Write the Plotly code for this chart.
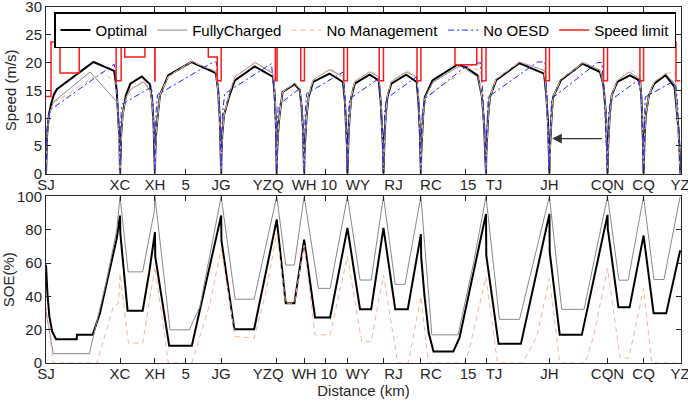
import plotly.graph_objects as go

# ---------------- data ----------------
station_names = ["SJ", "XC", "XH", "JG", "YZQ", "WH", "WY", "RJ", "RC", "TJ", "JH", "CQN", "CQ", "YZ"]
station_km = [0, 2.65, 3.90, 6.27, 8.26, 9.24, 10.79, 12.08, 13.42, 15.75, 18.02, 20.10, 21.39, 22.70]
km_marks = [5, 10, 15]

# speed (m/s) vs distance (km)
optimal_speed = [
    (0, 0), (0.01, 3.5), (0.04, 7), (0.10, 10.5), (0.18, 12.5), (0.28, 14.2), (0.39, 15.2), (1.70, 20.1), (2.44, 18.5), (2.53, 15), (2.59, 10.5), (2.63, 6), (2.65, 0),
    (2.66, 3.5), (2.69, 7), (2.74, 10.5), (2.86, 14.1), (3.02, 16.2), (3.43, 17.5), (3.72, 16.1), (3.80, 13), (3.85, 9), (3.88, 5), (3.90, 0),
    (3.91, 3.5), (3.94, 7), (4.00, 10.5), (4.08, 14.2), (4.38, 17.7), (5.21, 20.1), (6.08, 18.1), (6.16, 15), (6.22, 10), (6.25, 5), (6.27, 0),
    (6.28, 3.5), (6.31, 7), (6.37, 10.5), (6.55, 13.8), (6.76, 16.8), (7.47, 19.3), (8.13, 17.4), (8.19, 14), (8.23, 9), (8.25, 4), (8.26, 0),
    (8.27, 3.5), (8.30, 7), (8.36, 10.5), (8.47, 14.7), (8.90, 16.1), (9.08, 15.1), (9.15, 12), (9.20, 8), (9.23, 4), (9.24, 0),
    (9.25, 3.5), (9.28, 7), (9.33, 10.5), (9.40, 13.8), (9.56, 16.5), (10.15, 18.0), (10.63, 16.5), (10.70, 13), (10.75, 8), (10.78, 4), (10.79, 0),
    (10.80, 3.5), (10.83, 7), (10.87, 10.5), (10.93, 13.8), (11.05, 16.2), (11.58, 17.8), (11.91, 16.8), (11.98, 13), (12.03, 8), (12.07, 4), (12.08, 0),
    (12.09, 3.5), (12.12, 7), (12.16, 10.5), (12.22, 13.8), (12.36, 16.2), (12.89, 17.8), (13.27, 16.5), (13.33, 13), (13.38, 8), (13.41, 4), (13.42, 0),
    (13.43, 3.5), (13.46, 7), (13.50, 10.5), (13.56, 13.8), (13.84, 16.8), (14.72, 19.6), (15.00, 19.2), (15.45, 17.7), (15.60, 14), (15.68, 9), (15.73, 4), (15.75, 0),
    (15.76, 3.5), (15.79, 7), (15.83, 10.5), (15.89, 13.8), (16.11, 16.8), (16.94, 19.9), (17.83, 18.0), (17.91, 14), (17.97, 9), (18.00, 4), (18.02, 0),
    (18.03, 3.5), (18.06, 7), (18.10, 10.5), (18.15, 13.8), (18.43, 16.8), (19.20, 19.8), (19.83, 18.3), (19.95, 16), (20.04, 11), (20.08, 5), (20.10, 0),
    (20.11, 3.5), (20.14, 7), (20.18, 10.5), (20.25, 14.1), (20.45, 16.5), (20.90, 17.7), (21.27, 16.7), (21.32, 13), (21.36, 8), (21.38, 4), (21.39, 0),
    (21.40, 3.5), (21.43, 7), (21.47, 10.5), (21.58, 14.1), (21.77, 16.2), (22.18, 17.7), (22.50, 15.6), (22.57, 12), (22.64, 8), (22.68, 4), (22.70, 0),
]
charged_speed = [
    (0, 0), (0.01, 3.5), (0.04, 7), (0.10, 10.5), (0.27, 12.9), (1.58, 18.3), (2.54, 12.9), (2.59, 10), (2.63, 5), (2.65, 0),
    (2.66, 3.5), (2.69, 7), (2.74, 10.5), (2.86, 13.6), (3.03, 15.2), (3.50, 16.5), (3.74, 14.8), (3.82, 12), (3.86, 8), (3.89, 4), (3.90, 0),
    (3.91, 3.5), (3.94, 7), (4.00, 10.5), (4.08, 14.2), (4.38, 17.5), (5.21, 20.2), (6.08, 18.4), (6.16, 15), (6.22, 10), (6.25, 5), (6.27, 0),
    (6.28, 3.5), (6.31, 7), (6.37, 10.5), (6.55, 14.2), (6.76, 17.4), (7.49, 20.0), (8.13, 18.0), (8.19, 14), (8.23, 9), (8.25, 4), (8.26, 0),
    (8.27, 3.5), (8.30, 7), (8.36, 10.5), (8.47, 14.7), (8.90, 16.3), (9.08, 15.3), (9.15, 12), (9.20, 8), (9.23, 4), (9.24, 0),
    (9.25, 3.5), (9.28, 7), (9.33, 10.5), (9.40, 14.0), (9.56, 16.9), (10.15, 18.7), (10.63, 17.5), (10.70, 13.5), (10.75, 8), (10.78, 4), (10.79, 0),
    (10.80, 3.5), (10.83, 7), (10.87, 10.5), (10.93, 14.0), (11.05, 16.6), (11.58, 18.3), (11.91, 17.4), (11.98, 13.5), (12.03, 8), (12.07, 4), (12.08, 0),
    (12.09, 3.5), (12.12, 7), (12.16, 10.5), (12.22, 14.0), (12.36, 16.6), (12.89, 18.3), (13.27, 17.4), (13.33, 13.5), (13.38, 8), (13.41, 4), (13.42, 0),
    (13.43, 3.5), (13.46, 7), (13.50, 10.5), (13.56, 13.6), (13.84, 16.4), (14.80, 19.4), (15.00, 18.9), (15.47, 17.3), (15.60, 14), (15.68, 9), (15.73, 4), (15.75, 0),
    (15.76, 3.5), (15.79, 7), (15.83, 10.5), (15.89, 13.8), (16.11, 17.0), (16.96, 20.1), (17.83, 18.6), (17.91, 14.5), (17.97, 9), (18.00, 4), (18.02, 0),
    (18.03, 3.5), (18.06, 7), (18.10, 10.5), (18.15, 13.8), (18.43, 17.0), (19.25, 20.0), (19.84, 18.6), (19.95, 16), (20.04, 11), (20.08, 5), (20.10, 0),
    (20.11, 3.5), (20.14, 7), (20.18, 10.5), (20.25, 14.1), (20.45, 16.8), (20.88, 18.3), (21.27, 17.0), (21.32, 13), (21.36, 8), (21.38, 4), (21.39, 0),
    (21.40, 3.5), (21.43, 7), (21.47, 10.5), (21.58, 14.1), (21.77, 16.5), (22.18, 18.0), (22.50, 16.2), (22.57, 12), (22.64, 8), (22.68, 4), (22.70, 0),
]
nomgmt_speed = [
    (0, 0), (0.01, 3.5), (0.04, 7), (0.10, 10.5), (0.27, 12.7), (2.00, 18.3), (2.50, 16.4), (2.57, 12), (2.62, 6), (2.65, 0),
    (2.66, 3.5), (2.69, 7), (2.74, 10.5), (2.86, 13.6), (3.03, 15.2), (3.52, 16.8), (3.74, 15.0), (3.82, 12), (3.86, 8), (3.89, 4), (3.90, 0),
    (3.91, 3.5), (3.94, 7), (4.00, 10.5), (4.08, 14.2), (4.38, 17.5), (5.21, 20.2), (6.08, 18.4), (6.16, 15), (6.22, 10), (6.25, 5), (6.27, 0),
    (6.28, 3.5), (6.31, 7), (6.37, 10.5), (6.55, 14.2), (6.76, 17.4), (7.49, 20.1), (8.13, 18.2), (8.19, 14), (8.23, 9), (8.25, 4), (8.26, 0),
    (8.27, 3.5), (8.30, 7), (8.36, 10.5), (8.47, 14.7), (8.90, 16.3), (9.08, 15.3), (9.15, 12), (9.20, 8), (9.23, 4), (9.24, 0),
    (9.25, 3.5), (9.28, 7), (9.33, 10.5), (9.40, 14.0), (9.56, 16.9), (10.18, 18.9), (10.63, 17.5), (10.70, 13.5), (10.75, 8), (10.78, 4), (10.79, 0),
    (10.80, 3.5), (10.83, 7), (10.87, 10.5), (10.93, 14.0), (11.05, 16.6), (11.62, 18.5), (11.91, 17.4), (11.98, 13.5), (12.03, 8), (12.07, 4), (12.08, 0),
    (12.09, 3.5), (12.12, 7), (12.16, 10.5), (12.22, 14.0), (12.36, 16.6), (12.93, 18.5), (13.27, 17.4), (13.33, 13.5), (13.38, 8), (13.41, 4), (13.42, 0),
    (13.43, 3.5), (13.46, 7), (13.50, 10.5), (13.56, 13.4), (13.84, 14.7), (15.15, 19.1), (15.47, 18.7), (15.60, 14), (15.68, 9), (15.73, 4), (15.75, 0),
    (15.76, 3.5), (15.79, 7), (15.83, 10.5), (15.89, 13.8), (16.11, 17.0), (16.96, 20.1), (17.83, 18.6), (17.91, 14.5), (17.97, 9), (18.00, 4), (18.02, 0),
    (18.03, 3.5), (18.06, 7), (18.10, 10.5), (18.15, 13.8), (18.43, 17.0), (19.25, 20.0), (19.84, 18.6), (19.95, 16), (20.04, 11), (20.08, 5), (20.10, 0),
    (20.11, 3.5), (20.14, 7), (20.18, 10.5), (20.25, 14.1), (20.45, 16.8), (20.97, 18.6), (21.27, 17.4), (21.32, 13), (21.36, 8), (21.38, 4), (21.39, 0),
    (21.40, 3.5), (21.43, 7), (21.47, 10.5), (21.58, 14.1), (21.77, 16.5), (22.18, 18.0), (22.52, 18.4), (22.58, 12), (22.64, 8), (22.68, 4), (22.70, 0),
]
nooesd_speed = [
    (0, 0), (0.01, 4), (0.04, 8), (0.13, 11.4), (2.44, 19.7), (2.53, 16), (2.59, 11), (2.63, 6), (2.65, 0),
    (2.66, 6), (2.69, 11), (2.72, 12.5), (3.78, 15.6), (3.84, 12), (3.88, 6), (3.90, 0),
    (3.91, 6), (3.94, 11), (3.99, 14.2), (5.99, 20.1), (6.10, 20.1), (6.18, 15), (6.24, 8), (6.27, 0),
    (6.28, 6), (6.32, 11), (6.40, 14.4), (8.07, 19.8), (8.16, 15), (8.22, 8), (8.26, 0),
    (8.27, 6), (8.29, 10), (8.31, 12.3), (9.08, 15.3), (9.15, 12), (9.21, 6), (9.24, 0),
    (9.25, 6), (9.28, 11), (9.33, 14.4), (10.64, 18.3), (10.70, 14), (10.76, 7), (10.79, 0),
    (10.80, 6), (10.83, 11), (10.87, 13.5), (11.91, 17.1), (11.98, 13), (12.04, 7), (12.08, 0),
    (12.09, 6), (12.12, 11), (12.18, 13.5), (13.26, 17.4), (13.33, 13), (13.38, 7), (13.42, 0),
    (13.43, 6), (13.47, 11), (13.57, 13.5), (15.00, 19.2), (15.55, 20.0), (15.63, 15), (15.70, 8), (15.75, 0),
    (15.76, 6), (15.79, 11), (15.83, 13.8), (17.59, 20.1), (17.86, 20.1), (17.93, 14), (17.98, 7), (18.02, 0),
    (18.03, 6), (18.06, 11), (18.10, 13.5), (19.74, 20.0), (19.90, 20.0), (19.98, 14), (20.05, 7), (20.10, 0),
    (20.11, 6), (20.14, 11), (20.21, 13.2), (21.19, 16.8), (21.30, 14), (21.35, 8), (21.39, 0),
    (21.40, 6), (21.43, 11), (21.45, 13.8), (22.53, 16.8), (22.60, 13), (22.66, 7), (22.70, 0),
]
limit_km = [0, 0.18, 0.50, 1.19, 2.51, 2.69, 2.82, 3.54, 3.895, 3.905, 5.81, 6.13, 6.27, 8.21, 8.27,
            9.12, 9.25, 10.66, 10.79, 11.93, 12.08, 13.28, 13.42, 14.64, 15.42, 15.60, 15.75,
            17.89, 18.02, 19.96, 20.10, 21.26, 21.39, 22.55, 22.70]
limit_speed = [13.9, 23.7, 18.1, 23.7, 16.7, 23.7, 21.0, 23.7, 16.7, 23.7, 21.0, 16.7, 23.7, 16.7, 23.7,
               16.7, 23.7, 16.7, 23.7, 16.7, 23.7, 16.7, 23.7, 19.6, 23.7, 16.7, 23.7,
               16.7, 23.7, 16.7, 23.7, 16.7, 23.7, 16.7, 16.7]

# SOE (%) vs distance (km)
optimal_soe = [
    (0, 59), (0.05, 42), (0.12, 28), (0.22, 19), (0.36, 14.3), (1.10, 14.3), (1.11, 16.9), (1.67, 16.9), (1.93, 29.8), (2.29, 55.7), (2.53, 74.6), (2.65, 88.5),
    (2.66, 78), (2.92, 31.4), (3.46, 31.4), (3.70, 55), (3.90, 78.5), (3.91, 64), (4.41, 10.3), (5.22, 10.3), (5.75, 49.7), (6.27, 88.5),
    (6.28, 73.6), (6.74, 20.3), (7.45, 20.3), (8.26, 86.1), (8.58, 35.9), (8.89, 35.9), (9.24, 74.1), (9.63, 27.3), (10.17, 27.3), (10.79, 81.1),
    (11.24, 32.3), (11.64, 32.3), (12.08, 81.1), (12.50, 32.3), (12.95, 32.3), (13.42, 77.3), (13.43, 63.7), (13.55, 40), (13.70, 18), (13.87, 6.9),
    (14.58, 6.9), (14.80, 15), (15.75, 89.5), (15.76, 64.6), (16.20, 11.5), (17.00, 11.5), (18.02, 89.5), (18.03, 66.6), (18.39, 16.9), (19.18, 16.9),
    (20.10, 88.9), (20.11, 80.5), (20.49, 33.4), (20.89, 33.4), (21.39, 76.5), (21.75, 29.8), (22.20, 29.8), (22.70, 67.6),
]
charged_soe = [
    (0, 30.8), (0.26, 5.6), (1.55, 5.6), (2.17, 49.7), (2.53, 79.5), (2.65, 100), (2.94, 54.7), (3.46, 54.7), (3.87, 90.5), (3.90, 100),
    (4.44, 19.9), (5.13, 19.9), (5.51, 33.8), (6.27, 100), (6.77, 38.3), (7.45, 38.3), (8.26, 100), (8.58, 58.8), (8.89, 58.8), (9.24, 100),
    (9.75, 44.8), (10.17, 44.8), (10.79, 100), (11.24, 49.8), (11.64, 49.8), (12.08, 100), (12.50, 47.2), (12.85, 47.2), (13.42, 100),
    (13.81, 16.9), (14.75, 16.9), (15.30, 59.6), (15.75, 100), (16.23, 26.2), (16.95, 26.2), (18.02, 100), (18.46, 32.2), (19.26, 32.2),
    (20.10, 100), (20.51, 49.7), (20.84, 49.7), (21.39, 100), (21.76, 50.1), (22.12, 50.1), (22.70, 100),
]
nomgmt_soe = [
    (0, 33.8), (0.26, 0), (1.82, 0), (2.41, 33.8), (2.59, 35.8), (2.65, 53.7), (2.95, 11.9), (3.46, 11.9), (3.90, 57.7), (4.38, 0), (5.22, 0),
    (5.51, 15.9), (5.87, 35.8), (6.27, 68.6), (6.77, 15.9), (7.45, 14.9), (7.84, 40), (8.26, 77.7), (8.58, 35.9), (8.89, 35.9), (9.24, 70.7),
    (9.63, 16.9), (10.17, 16.9), (10.79, 64), (11.30, 12.9), (11.64, 12.9), (12.08, 52.8), (12.59, 0), (12.97, 0), (13.42, 39.8), (13.69, 0),
    (14.98, 0), (15.15, 8), (15.45, 30), (15.75, 51.7), (16.16, 0), (17.06, 0), (17.57, 15.9), (18.02, 50.7), (18.39, 0), (19.30, 0),
    (19.60, 15.9), (20.10, 56.7), (20.55, 3), (20.86, 3), (21.39, 44.7), (21.68, 0), (22.70, 0),
]

arrow_from = (19.95, 6.3)
arrow_to = (18.12, 6.3)

# ---------------- figure ----------------
TXT = "#262626"
FONT = "Liberation Sans, Arial, sans-serif"
W, H = 688, 407
ML, MR, MT, MB = 46, 7, 7, 44
xr = [0, 22.73]
px_per_km = (W - ML - MR) / (xr[1] - xr[0])
# horizontal nudges (px) of some tick labels, as placed in the reference
label_nudge_px = {"YZQ": -8.5, "10": 3.5, "WY": 10.5, "RJ": 10, "RC": 10, "15": 3, "TJ": 8}


def xs(pts):
    return [p[0] for p in pts]


def ys(pts):
    return [p[1] for p in pts]


fig = go.Figure()

styles = [
    ("Optimal", dict(color="black", width=2)),
    ("FullyCharged", dict(color="#888888", width=1)),
    ("No Management", dict(color="#f3b497", width=1, dash="5px,4px")),
    ("No OESD", dict(color="#1f1fff", width=1, dash="6px,3px,2px,3px")),
]
speed_series = [optimal_speed, charged_speed, nomgmt_speed, nooesd_speed]
for (name, line), pts in zip(styles, speed_series):
    fig.add_trace(go.Scatter(x=xs(pts), y=ys(pts), mode="lines", name=name, line=line,
                             xaxis="x", yaxis="y"))
fig.add_trace(go.Scatter(x=limit_km, y=limit_speed, mode="lines", name="Speed limit",
                         line=dict(color="#ff1a1a", width=1.5, shape="hv"), xaxis="x", yaxis="y"))

soe_series = [optimal_soe, charged_soe, nomgmt_soe]
for (name, line), pts in zip(styles[:3], soe_series):
    fig.add_trace(go.Scatter(x=xs(pts), y=ys(pts), mode="lines", name=name, line=line,
                             showlegend=False, xaxis="x2", yaxis="y2"))

# empty carriers so the label-only overlay axes get drawn
for xa, ya in (("x3", "y"), ("x4", "y2")):
    fig.add_trace(go.Scatter(x=[None], y=[None], mode="lines", showlegend=False,
                             hoverinfo="skip", xaxis=xa, yaxis=ya))

tick_pairs = sorted(list(zip(station_km, station_names)) + [(k, str(k)) for k in km_marks])
tickvals = [p[0] for p in tick_pairs]
labels = [p[1] for p in tick_pairs]
label_pos = [v + label_nudge_px.get(lab, 0) / px_per_km for v, lab in tick_pairs]

tickfont = dict(family=FONT, size=15, color=TXT)
axis_common = dict(showline=True, linecolor=TXT, linewidth=1, mirror="ticks", ticks="inside",
                   ticklen=5, tickcolor=TXT, showgrid=False, zeroline=False, automargin=False,
                   tickangle=0, tickfont=tickfont)
label_axis = dict(range=xr, tickvals=label_pos, ticktext=labels, ticks="", showline=False,
                  showgrid=False, zeroline=False, automargin=False, tickangle=0, tickfont=tickfont,
                  ticklabeloverflow="allow", side="bottom", ticklabelstandoff=0)

fig.update_layout(
    template="none",
    width=W, height=H,
    margin=dict(l=ML, r=MR, t=MT, b=MB),
    paper_bgcolor="white", plot_bgcolor="white",
    font=dict(family=FONT, size=15, color=TXT),
    xaxis=dict(domain=[0, 1], range=xr, anchor="y", tickvals=tickvals, showticklabels=False, **axis_common),
    yaxis=dict(domain=[0.532, 1.0], range=[0, 30], tickvals=[0, 5, 10, 15, 20, 25, 30], anchor="x",
               title=dict(text="Speed (m/s)", standoff=5, font=dict(family=FONT, size=15, color=TXT)),
               **axis_common),
    xaxis2=dict(domain=[0, 1], range=xr, anchor="y2", tickvals=tickvals, showticklabels=False, **axis_common),
    yaxis2=dict(domain=[0, 0.468], range=[0, 100], tickvals=[0, 20, 40, 60, 80, 100], anchor="x2",
                title=dict(text="SOE(%)", standoff=5, font=dict(family=FONT, size=15, color=TXT)),
                **axis_common),
    xaxis3=dict(overlaying="x", anchor="y", **label_axis),
    xaxis4=dict(overlaying="x2", anchor="y2",
                title=dict(text="Distance (km)", standoff=0, font=dict(family=FONT, size=15, color=TXT)),
                **label_axis),
    legend=dict(orientation="h", x=0.0126, y=0.985, xanchor="left", yanchor="top",
                bgcolor="white", bordercolor="black", borderwidth=1.5,
                font=dict(family=FONT, size=15, color="black"), itemwidth=30),
    annotations=[dict(x=arrow_to[0], y=arrow_to[1], ax=arrow_from[0], ay=arrow_from[1],
                      xref="x", yref="y", axref="x", ayref="y", text="", showarrow=True,
                      arrowhead=2, arrowsize=1.6, arrowwidth=1.2, arrowcolor="#333333")],
)

fig.write_html("out.html")
